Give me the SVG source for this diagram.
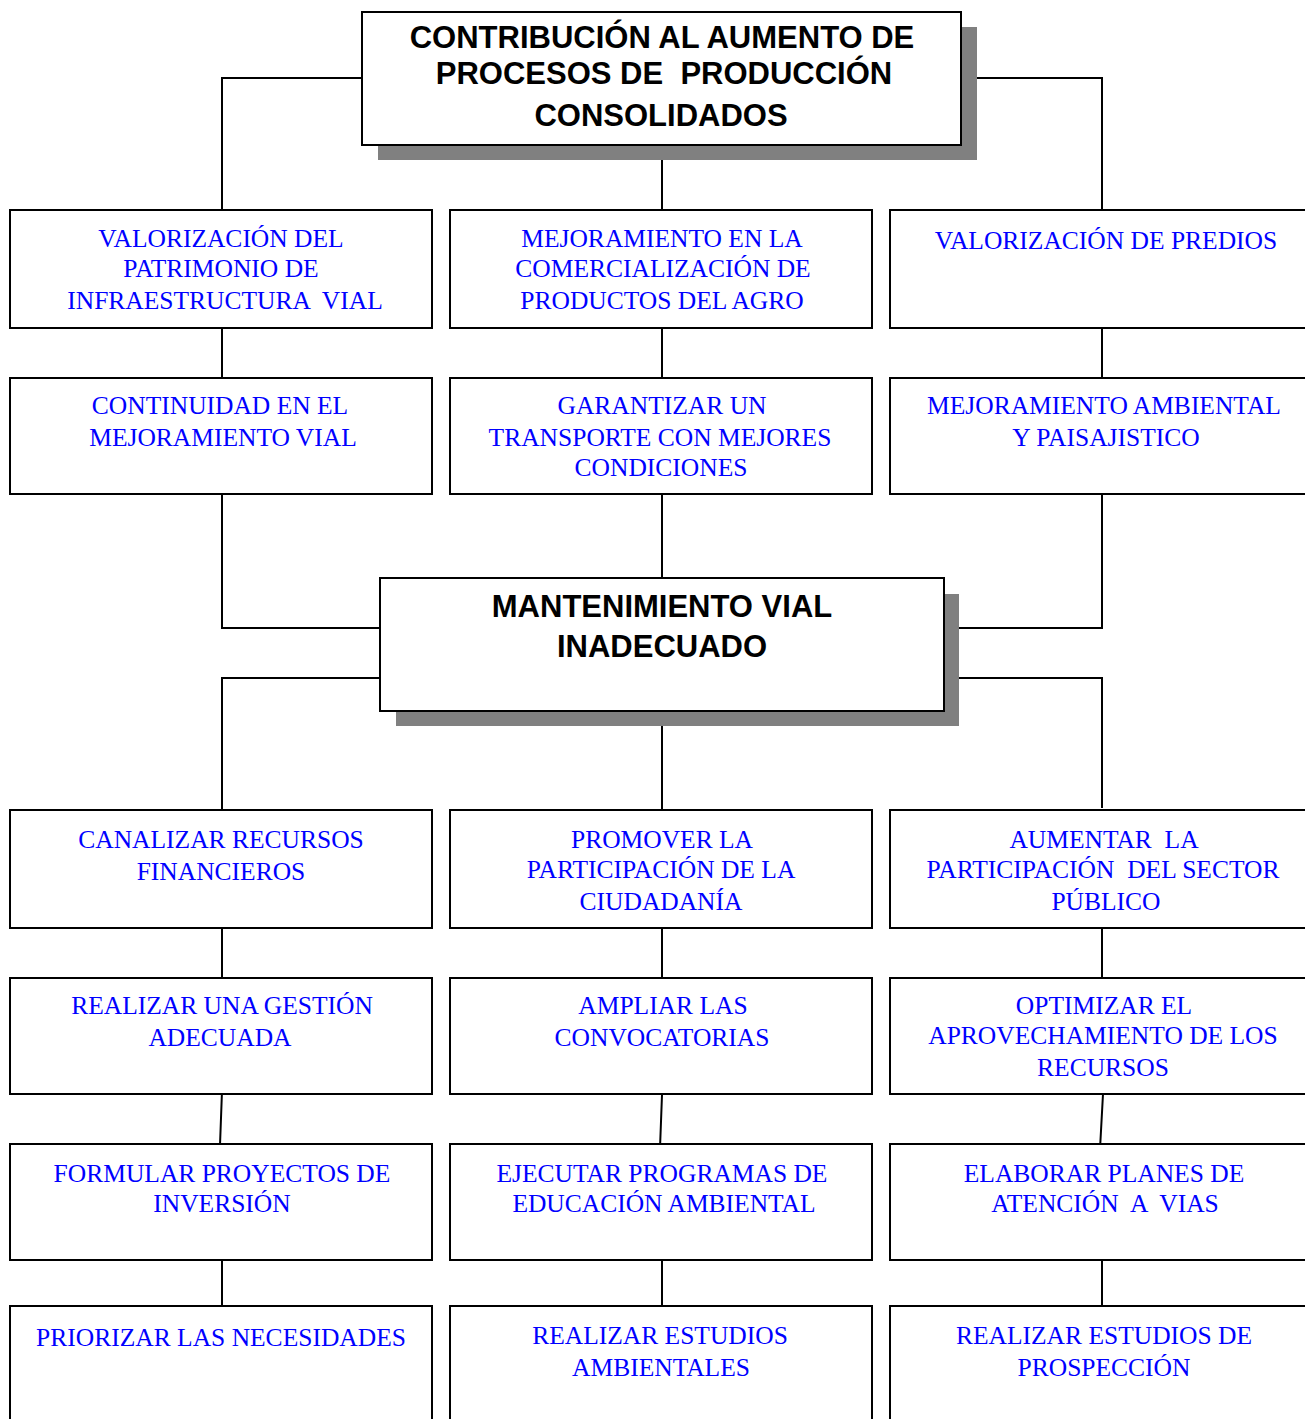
<svg xmlns="http://www.w3.org/2000/svg" width="1305" height="1419" viewBox="0 0 1305 1419">
<style>
.box{fill:#fff;stroke:#000;stroke-width:2}
.sh{fill:#808080}
.t{font-family:"Liberation Serif","Times New Roman",serif;font-size:25.5px;fill:#0000ff;text-anchor:middle;white-space:pre}
.h{font-family:"Liberation Sans",Arial,sans-serif;font-size:31px;font-weight:bold;fill:#000;text-anchor:middle;white-space:pre}
.c{fill:none;stroke:#000;stroke-width:2}
</style>
<rect width="1305" height="1419" fill="#fff"/>
<g id="connectors">
<path class="c" d="M362 78H222V210M961 78H1102V210M662 145V210"/>
<path class="c" d="M222 328V378M662 328V378M1102 328V378"/>
<path class="c" d="M222 494V628H380M662 494V578M1102 494V628H944"/>
<path class="c" d="M380 678H222V810M662 711V810M944 678H1102V808"/>
<path class="c" d="M222 928V978M662 928V978M1102 928V978"/>
<path class="c" d="M222 1091L220 1145M662 1095L660 1148M1103 1094L1100 1149"/>
<path class="c" d="M222 1256V1306M662 1256V1306M1102 1256V1306"/>
</g>
<g id="top">
<rect class="sh" x="378" y="27" width="599" height="133"/>
<rect class="box" x="362" y="12" width="599" height="133"/>
<text class="h" x="662" y="48">CONTRIBUCIÓN AL AUMENTO DE</text>
<text class="h" x="664" y="84">PROCESOS DE  PRODUCCIÓN</text>
<text class="h" x="661" y="126">CONSOLIDADOS</text>
</g>
<g id="n1"><rect class="box" x="10" y="210" width="422" height="118"/>
<text class="t" x="221" y="247">VALORIZACIÓN DEL</text><text class="t" x="221" y="277">PATRIMONIO DE</text><text class="t" x="225" y="309">INFRAESTRUCTURA  VIAL</text></g>
<g id="n2"><rect class="box" x="450" y="210" width="422" height="118"/>
<text class="t" x="662" y="247">MEJORAMIENTO EN LA</text><text class="t" x="663" y="277">COMERCIALIZACIÓN DE</text><text class="t" x="662" y="309">PRODUCTOS DEL AGRO</text></g>
<g id="n3"><rect class="box" x="890" y="210" width="425" height="118"/>
<text class="t" x="1106" y="249">VALORIZACIÓN DE PREDIOS</text></g>
<g id="n4"><rect class="box" x="10" y="378" width="422" height="116"/>
<text class="t" x="220" y="414">CONTINUIDAD EN EL</text><text class="t" x="223" y="446">MEJORAMIENTO VIAL</text></g>
<g id="n5"><rect class="box" x="450" y="378" width="422" height="116"/>
<text class="t" x="662" y="414">GARANTIZAR UN</text><text class="t" x="660" y="446">TRANSPORTE CON MEJORES</text><text class="t" x="661" y="476">CONDICIONES</text></g>
<g id="n6"><rect class="box" x="890" y="378" width="425" height="116"/>
<text class="t" x="1104" y="414">MEJORAMIENTO AMBIENTAL</text><text class="t" x="1106" y="446">Y PAISAJISTICO</text></g>
<g id="mid">
<rect class="sh" x="396" y="594" width="563" height="132"/>
<rect class="box" x="380" y="578" width="564" height="133"/>
<text class="h" x="662" y="617">MANTENIMIENTO VIAL</text>
<text class="h" x="662" y="657">INADECUADO</text>
</g>
<g id="n7"><rect class="box" x="10" y="810" width="422" height="118"/>
<text class="t" x="221" y="848">CANALIZAR RECURSOS</text><text class="t" x="221" y="880">FINANCIEROS</text></g>
<g id="n8"><rect class="box" x="450" y="810" width="422" height="118"/>
<text class="t" x="662" y="848">PROMOVER LA</text><text class="t" x="661" y="878">PARTICIPACIÓN DE LA</text><text class="t" x="661" y="910">CIUDADANÍA</text></g>
<g id="n9"><rect class="box" x="890" y="810" width="425" height="118"/>
<text class="t" x="1104" y="848">AUMENTAR  LA</text><text class="t" x="1103" y="878">PARTICIPACIÓN  DEL SECTOR</text><text class="t" x="1106" y="910">PÚBLICO</text></g>
<g id="n10"><rect class="box" x="10" y="978" width="422" height="116"/>
<text class="t" x="222" y="1014">REALIZAR UNA GESTIÓN</text><text class="t" x="220" y="1046">ADECUADA</text></g>
<g id="n11"><rect class="box" x="450" y="978" width="422" height="116"/>
<text class="t" x="663" y="1014">AMPLIAR LAS</text><text class="t" x="662" y="1046">CONVOCATORIAS</text></g>
<g id="n12"><rect class="box" x="890" y="978" width="425" height="116"/>
<text class="t" x="1104" y="1014">OPTIMIZAR EL</text><text class="t" x="1103" y="1044">APROVECHAMIENTO DE LOS</text><text class="t" x="1103" y="1076">RECURSOS</text></g>
<g id="n13"><rect class="box" x="10" y="1144" width="422" height="116"/>
<text class="t" x="222" y="1182">FORMULAR PROYECTOS DE</text><text class="t" x="222" y="1212">INVERSIÓN</text></g>
<g id="n14"><rect class="box" x="450" y="1144" width="422" height="116"/>
<text class="t" x="662" y="1182">EJECUTAR PROGRAMAS DE</text><text class="t" x="664" y="1212">EDUCACIÓN AMBIENTAL</text></g>
<g id="n15"><rect class="box" x="890" y="1144" width="425" height="116"/>
<text class="t" x="1104" y="1182">ELABORAR PLANES DE</text><text class="t" x="1105" y="1212">ATENCIÓN  A  VIAS</text></g>
<g id="n16"><rect class="box" x="10" y="1306" width="422" height="130"/>
<text class="t" x="221" y="1346">PRIORIZAR LAS NECESIDADES</text></g>
<g id="n17"><rect class="box" x="450" y="1306" width="422" height="130"/>
<text class="t" x="660" y="1344">REALIZAR ESTUDIOS</text><text class="t" x="661" y="1376">AMBIENTALES</text></g>
<g id="n18"><rect class="box" x="890" y="1306" width="425" height="130"/>
<text class="t" x="1104" y="1344">REALIZAR ESTUDIOS DE</text><text class="t" x="1104" y="1376">PROSPECCIÓN</text></g>
</svg>
